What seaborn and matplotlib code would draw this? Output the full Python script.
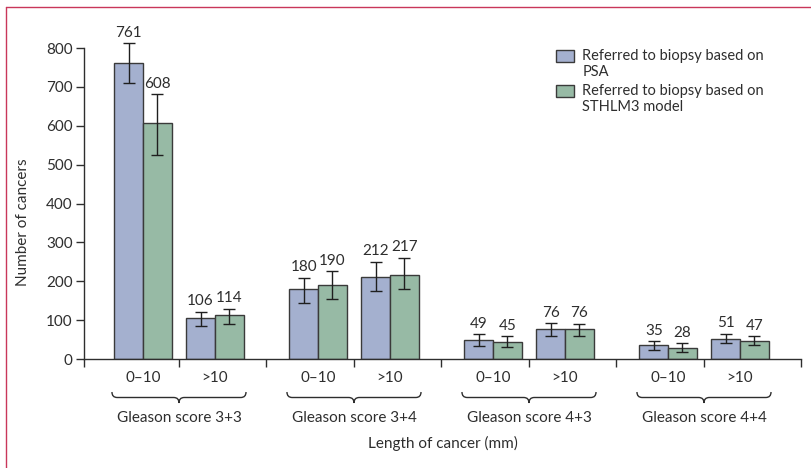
import numpy as np
import pandas as pd
import matplotlib
matplotlib.use("Agg")
import matplotlib.pyplot as plt
import matplotlib.transforms as mtransforms
from matplotlib.path import Path
from matplotlib.patches import PathPatch, Rectangle
from matplotlib.lines import Line2D
from matplotlib.legend_handler import HandlerPatch
import seaborn as sns

# ---- data -------------------------------------------------------------
gleason_scores = ["3+3", "3+4", "4+3", "4+4"]
length_classes = ["0–10", ">10"]
methods = [
    "Referred to biopsy based on\nPSA",
    "Referred to biopsy based on\nSTHLM3 model",
]

# ordered: (3+3, 0–10), (3+3, >10), (3+4, 0–10), ... (4+4, >10)
psa_counts = [761, 106, 180, 212, 49, 76, 35, 51]
psa_low = [709, 86, 145, 175, 34, 58, 24, 40]
psa_high = [812, 121, 209, 250, 64, 92, 46, 65]

sthlm3_counts = [608, 114, 190, 217, 45, 76, 28, 47]
sthlm3_low = [526, 91, 155, 180, 32, 60, 18, 36]
sthlm3_high = [681, 129, 226, 261, 58, 91, 40, 59]

y_ticks = [0, 100, 200, 300, 400, 500, 600, 700, 800]

# ---- styling ----------------------------------------------------------
sns.set_style("ticks")
plt.rcParams["font.family"] = ["Lato", "DejaVu Sans"]
ink = "#2e2e2e"
edge = "#3a3a3a"
palette = {methods[0]: "#9dadd6", methods[1]: "#91c0a4"}
fs = 11
fs_legend = 10.5

# ---- layout of the x axis: each Gleason group is 2 units wide --------
group_centres = [1 + 2 * g for g in range(len(gleason_scores))]
pair_offset = 0.41
positions = []
for c in group_centres:
    positions += [c - pair_offset, c + pair_offset]

rows = []
for i, pos in enumerate(positions):
    rows.append({"pos": pos, "count": psa_counts[i], "method": methods[0]})
    rows.append({"pos": pos, "count": sthlm3_counts[i], "method": methods[1]})
df = pd.DataFrame(rows)

fig = plt.figure(figsize=(8.12, 4.68), dpi=100)
ax = fig.add_axes([0.1034, 0.2329, 0.8831, 0.7060])

sns.barplot(
    data=df, x="pos", y="count", hue="method", hue_order=methods,
    native_scale=True, palette=palette, edgecolor=edge,
    linewidth=1.0, errorbar=None, width=0.8, ax=ax,
)

# confidence intervals and value labels on top of each bar
lows = [psa_low, sthlm3_low]
highs = [psa_high, sthlm3_high]
vals = [psa_counts, sthlm3_counts]
bar_containers = list(ax.containers)
for k, container in enumerate(bar_containers):
    bars = sorted(container.patches, key=lambda b: b.get_x())
    for i, bar in enumerate(bars):
        xc = bar.get_x() + bar.get_width() / 2
        v = vals[k][i]
        lo, hi = lows[k][i], highs[k][i]
        ax.errorbar(xc, v, yerr=[[v - lo], [hi - v]], fmt="none",
                    ecolor="#1f1f1f", elinewidth=1.0, capsize=4.5,
                    capthick=1.0, zorder=5)
        ax.annotate(str(v), (xc, hi), xytext=(0, 2.5),
                    textcoords="offset points", ha="center", va="bottom",
                    fontsize=fs, color=ink)

# axes limits, spines and ticks
x_lo, x_hi = -0.086, 8.109
ax.set_xlim(x_lo, x_hi)
ax.set_ylim(0, 850)
ax.spines["top"].set_visible(False)
ax.spines["right"].set_visible(False)
ax.spines["left"].set_bounds(0, 800)
for s in ("left", "bottom"):
    ax.spines[s].set_color(ink)
    ax.spines[s].set_linewidth(1.0)
ax.set_yticks(y_ticks)
ax.set_yticklabels([str(t) for t in y_ticks], fontsize=fs, color=ink)
ax.set_xticks([x_lo, 1, 2, 3, 4, 5, 6, 7, x_hi])
ax.set_xticklabels([])
ax.tick_params(axis="y", length=6, width=1.0, color=ink, pad=2)
ax.tick_params(axis="x", length=5.5, width=1.0, color=ink)
ax.set_xlabel("")
ax.set_ylabel("")

# category labels below the axis
trans = mtransforms.blended_transform_factory(ax.transData, ax.transAxes)
for i, pos in enumerate(positions):
    ax.annotate(length_classes[i % 2], (pos, 0), xycoords=trans,
                xytext=(0, -13.7), textcoords="offset points",
                ha="center", va="center", fontsize=fs, color=ink)

axes_h_px = 0.7060 * 468


def below(px):
    return -px / axes_h_px


brace_half = 0.766
r = 0.06
for g, c in enumerate(group_centres):
    y_end, y_mid, y_tip = below(33), below(38.5), below(44)
    verts = [
        (c - brace_half, y_end), (c - brace_half, y_mid), (c - brace_half + r, y_mid),
        (c - r, y_mid), (c, y_mid), (c, y_tip),
        (c, y_mid), (c + r, y_mid),
        (c + brace_half - r, y_mid), (c + brace_half, y_mid), (c + brace_half, y_end),
    ]
    codes = [
        Path.MOVETO, Path.CURVE3, Path.CURVE3,
        Path.LINETO, Path.CURVE3, Path.CURVE3,
        Path.CURVE3, Path.CURVE3,
        Path.LINETO, Path.CURVE3, Path.CURVE3,
    ]
    ax.add_patch(PathPatch(Path(verts, codes), transform=trans, fill=False,
                           edgecolor=ink, linewidth=1.0, clip_on=False))
    ax.annotate(f"Gleason score {gleason_scores[g]}", (c, 0), xycoords=trans,
                xytext=(0, -42.5), textcoords="offset points",
                ha="center", va="center", fontsize=fs, color=ink)

fig.text(442.5 / 812, 1 - 443 / 468, "Length of cancer (mm)", ha="center",
         va="center", fontsize=fs, color=ink)
fig.text(23 / 812, 1 - 222 / 468, "Number of cancers", ha="center",
         va="center", rotation=90, fontsize=fs, color=ink)


# legend: swatch sits beside the first line of each two-line label
def top_line_swatch(legend, orig_handle, xdescent, ydescent, width, height,
                    fontsize):
    return Rectangle((-xdescent, -ydescent + 0.58 * fontsize), width, height)


handles, labels = ax.get_legend_handles_labels()
if ax.get_legend() is not None:
    ax.get_legend().remove()
leg = fig.legend(handles, labels, loc="upper left",
                 bbox_to_anchor=(556 / 812, 1 - 49 / 468), frameon=False,
                 fontsize=fs_legend, handlelength=1.2, handleheight=0.9,
                 handletextpad=0.6, labelspacing=0.3, borderpad=0,
                 borderaxespad=0, labelcolor=ink,
                 handler_map={h: HandlerPatch(patch_func=top_line_swatch)
                              for h in handles})
for p in leg.get_patches():
    p.set_edgecolor(edge)
    p.set_linewidth(1.0)

# thin coloured frame along the top and left edges
frame_col = "#c9375a"
fig.add_artist(Line2D([6 / 812, 1.0], [1 - 7 / 468, 1 - 7 / 468],
                      transform=fig.transFigure, color=frame_col, linewidth=1.0))
fig.add_artist(Line2D([6 / 812, 6 / 812], [0.0, 1 - 7 / 468],
                      transform=fig.transFigure, color=frame_col, linewidth=1.0))

fig.savefig("out.png", dpi=100)
